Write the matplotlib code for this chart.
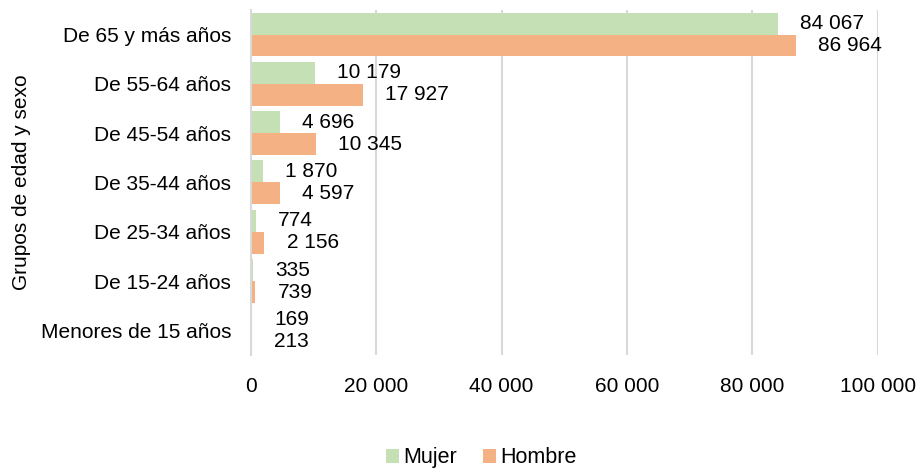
import numpy as np
import matplotlib.pyplot as plt

plt.rcParams['font.family'] = ['Liberation Sans', 'DejaVu Sans']

# Data (top to bottom as in the chart)
grupos = ["De 65 y más años", "De 55-64 años", "De 45-54 años", "De 35-44 años",
          "De 25-34 años", "De 15-24 años", "Menores de 15 años"]
mujer = [84067, 10179, 4696, 1870, 774, 335, 169]
hombre = [86964, 17927, 10345, 4597, 2156, 739, 213]

c_mujer = '#C5E0B4'
c_hombre = '#F4B183'
grid_c = '#D9D9D9'

fig = plt.figure(figsize=(9.22, 4.69), dpi=100)
ax = fig.add_axes([0.272, 0.243, 0.68, 0.736])

y = np.arange(len(grupos))
h = 0.445
bm = ax.barh(y - h / 2, mujer, height=h, color=c_mujer, label='Mujer', zorder=2)
bh = ax.barh(y + h / 2, hombre, height=h, color=c_hombre, label='Hombre', zorder=2)

def fmt(v):
    return f"{v:,.0f}".replace(',', ' ')

# value labels
for bars, vals in ((bm, mujer), (bh, hombre)):
    for b, v in zip(bars, vals):
        ax.annotate(fmt(v), (b.get_width(), b.get_y() + b.get_height() / 2),
                    xytext=(16, 0), textcoords='offset points',
                    va='center', ha='left', fontsize=15, color='black')

ax.set_xlim(0, 100000)
ax.set_ylim(len(grupos) - 0.5, -0.5)
ax.set_xticks(np.arange(0, 100001, 20000))
ax.set_xticklabels([fmt(v) for v in np.arange(0, 100001, 20000)])
ax.set_yticks(y)
ax.set_yticklabels(grupos)
ax.tick_params(axis='both', length=0, labelsize=15)
ax.tick_params(axis='y', pad=14)
ax.tick_params(axis='x', pad=16)

ax.grid(axis='x', color=grid_c, linewidth=1.5, zorder=0)
for s in ['top', 'right', 'bottom']:
    ax.spines[s].set_visible(False)
ax.spines['left'].set_color(grid_c)
ax.spines['left'].set_linewidth(1.5)

ax.set_ylabel("Grupos de edad y sexo", fontsize=15, labelpad=12)
ax.yaxis.set_label_coords(-0.35, 0.5)

fig.legend(handles=[bm, bh], loc='lower center', bbox_to_anchor=(0.522, -0.04),
           ncol=2, frameon=False, fontsize=15.5, handlelength=0.6, handleheight=0.6,
           handletextpad=0.2, columnspacing=1.2)

fig.savefig('out.png', dpi=100)
